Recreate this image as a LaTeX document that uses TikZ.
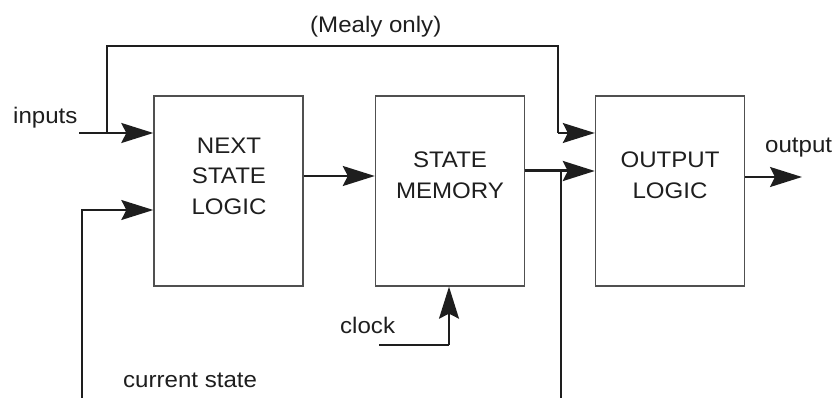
\documentclass[tikz,border=0pt]{standalone}
\usepackage{fontspec}
\setmainfont{Liberation Sans}[FakeStretch=1.07]
\usetikzlibrary{arrows.meta}
\definecolor{ink}{HTML}{1E1E1E}
\definecolor{boxline}{HTML}{505050}
\tikzset{
  blk/.style={draw=boxline, line width=1.4pt, minimum width=149pt, minimum height=190pt, inner sep=0pt},
  txt/.style={text=ink, font=\fontsize{22.5}{30.5}\selectfont, inner sep=0pt, align=center},
  wire/.style={draw=ink, line width=1.4pt},
  arr/.style={wire, -{Stealth[length=32pt, width=20pt, inset=5pt]}},
}
\begin{document}
\begin{tikzpicture}[x=1pt,y=-1pt]
\useasboundingbox (0,0) rectangle (837,398);
% blocks
\node[blk] (nsl) at (228.5,191) {};
\node[blk] (sm)  at (450,191) {};
\node[blk] (ol)  at (670,191) {};
\node[txt] (nsltxt) at (229,176) {NEXT\\STATE\\LOGIC};
\node[txt] (smtxt) at (450,175.5) {STATE\\MEMORY};
\node[txt] (oltxt) at (670,175.5) {OUTPUT\\LOGIC};
% labels
\node[txt, anchor=base west] (inputs) at (13,124) {inputs};
\node[txt, anchor=base west] (output) at (765,153) {output};
\node[txt, anchor=base west] (mealy) at (310,33) {(Mealy only)};
\node[txt, anchor=base west] (clock) at (340,333) {clock};
\node[txt, anchor=base west] (cur) at (123,387) {current state};
% coordinates
\coordinate (inp) at (79,133);
\coordinate (tap) at (107,133);
\coordinate (mtop) at (558,46);
\coordinate (mdown) at (558,133);
\coordinate (cs0) at (82,398);
\coordinate (cs1) at (82,210);
\coordinate (fb) at (561,171);
\coordinate (fbbot) at (561,398);
\coordinate (outend) at (802,177);
\coordinate (clk0) at (379,345);
\coordinate (clk1) at (449,345);
% connectors
\draw[arr, line width=2pt] (inp) -- (nsl.west |- inp);
\draw[wire] (tap) |- (mtop) -- (mdown);
\draw[arr] (mdown) -- (ol.west |- mdown);
\draw[arr] (cs0) -- (cs1) -- (nsl.west |- cs1);
\draw[arr, line width=2pt] (nsl.east |- 0,176) -- (sm.west |- 0,176);
\draw[arr, line width=3pt] (sm.east |- fb) -- (ol.west |- fb);
\draw[wire] (fb) -- (fbbot);
\draw[arr, line width=2pt] (ol.east |- outend) -- (outend);
\draw[wire] (clk0) -- (clk1);
\draw[arr] (clk1) -- (clk1 |- sm.south);
\end{tikzpicture}
\end{document}
